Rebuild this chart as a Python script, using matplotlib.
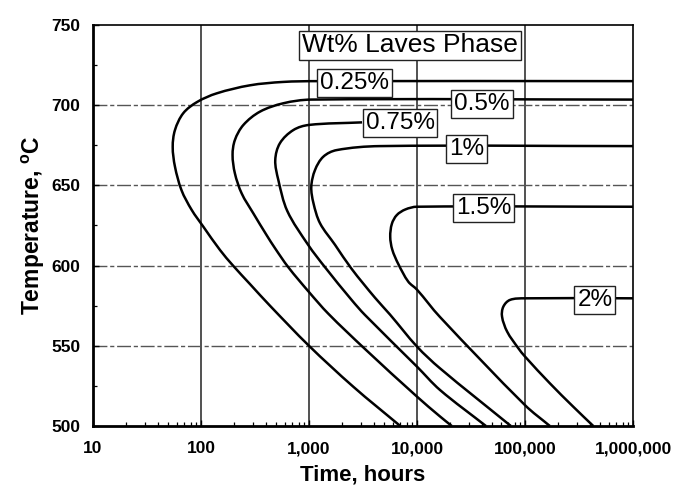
import numpy as np
import matplotlib
matplotlib.use("Agg")
import matplotlib.pyplot as plt
from matplotlib.path import Path
from matplotlib.patches import PathPatch
from matplotlib.ticker import FixedLocator, FixedFormatter, LogLocator, NullFormatter

plt.rcParams["font.family"] = ["Liberation Sans", "DejaVu Sans"]
plt.rcParams["mathtext.fontset"] = "custom"
plt.rcParams["mathtext.rm"] = "Liberation Sans"
plt.rcParams["mathtext.bf"] = "Liberation Sans:bold"

# Time (hours) / temperature (C) traces of each Laves-phase iso-fraction curve,
# listed from the low-temperature end, round the nose, out along the plateau.
t_025 = [7000, 2570, 1000, 435, 284, 198, 150, 105, 82, 66, 57.4, 54.7, 57.4, 68.5, 92, 140, 284, 574, 1200, 1e6]
T_025 = [500, 524.5, 550, 575, 588.5, 600, 609.7, 624.3, 634.7, 647, 661.7, 674, 684.5, 695, 702, 707.4, 712.4, 714.5, 715, 715]

t_050 = [21000, 16300, 10000, 3300, 1510, 1000, 643, 485, 405, 305, 238, 206, 196, 206, 247, 352, 578, 1045, 1e6]
T_050 = [500, 506, 518.3, 548, 570, 583.5, 599, 610.8, 619, 632.6, 645, 657.5, 669, 678.3, 687.7, 696, 701.2, 703.5, 703.5]

t_075 = [43500, 16300, 10000, 3300, 2480, 1406, 983, 630, 520, 487, 538, 716, 1000, 3100]
T_075 = [500, 522.5, 537, 569.2, 578.6, 599, 612.9, 634, 653.4, 665.8, 676.3, 684.5, 687.7, 689.3]

t_100 = [74000, 16300, 10000, 5620, 4080, 2480, 1740, 1265, 1100, 1050, 1137, 1357, 1800, 4540, 1e6]
T_100 = [500, 536, 549.5, 569.5, 580, 598, 613, 626.4, 638.9, 649.2, 659.6, 667.9, 672, 674.5, 674.5]

t_150 = [170000, 100000, 16300, 10000, 8300, 6710, 5900, 5650, 5850, 6500, 7800, 10000, 1e6]
T_150 = [500, 513, 568, 585, 590, 601, 610, 618, 626, 631.5, 635, 636.7, 636.7]

t_200 = [429000, 280000, 170000, 100000, 86700, 68400, 61300, 63000, 72600, 100000, 1e6]
T_200 = [500, 512, 526.6, 543.3, 548.5, 558.8, 568.2, 574.4, 578.6, 579.6, 579.6]

curve_labels = ["0.25%", "0.5%", "0.75%", "1%", "1.5%", "2%"]
curve_times = [t_025, t_050, t_075, t_100, t_150, t_200]
curve_temps = [T_025, T_050, T_075, T_100, T_150, T_200]

x_ticks = [10, 100, 1000, 10000, 100000, 1000000]
x_ticklabels = ["10", "100", "1,000", "10,000", "100,000", "1,000,000"]
y_ticks = [500, 550, 600, 650, 700, 750]
y_ticklabels = ["500", "550", "600", "650", "700", "750"]


def smooth_path(t, T, xscale=108.0, yscale=1.604):
    """Cubic Bezier path through the given points (tangents from neighbours,
    handle length from each segment), built in log-time space so the log axis
    maps it back onto the traced points."""
    u = np.log10(np.asarray(t, float)) * xscale
    v = np.asarray(T, float) * yscale
    p = np.column_stack([u, v])
    n = len(p)
    tang = np.zeros_like(p)
    for i in range(n):
        a = p[max(i - 1, 0)]
        b = p[min(i + 1, n - 1)]
        d = b - a
        tang[i] = d / (np.hypot(*d) or 1.0)
    verts = [p[0]]
    codes = [Path.MOVETO]
    for i in range(n - 1):
        seg = np.hypot(*(p[i + 1] - p[i])) / 3.0
        verts += [p[i] + tang[i] * seg, p[i + 1] - tang[i + 1] * seg, p[i + 1]]
        codes += [Path.CURVE4] * 3
    verts = np.array(verts)
    verts[:, 0] = 10 ** (verts[:, 0] / xscale)
    verts[:, 1] = verts[:, 1] / yscale
    return Path(verts, codes)


fig = plt.figure(figsize=(6.86, 4.97), dpi=100)
ax = fig.add_axes([93 / 686, 1 - 426 / 497, 540 / 686, 401 / 497])
ax.set_xscale("log")
ax.set_xlim(10, 1e6)
ax.set_ylim(500, 750)

# grid: solid verticals at each decade, dash-dot horizontals
for xv in x_ticks[1:-1]:
    ax.axvline(xv, color="#222222", lw=1.1, zorder=1)
for yv in y_ticks[1:-1]:
    ax.axhline(yv, color="#555555", lw=1.0, ls=(0, (10, 2, 3, 2)), zorder=1)

for t, T in zip(curve_times, curve_temps):
    ax.add_patch(PathPatch(smooth_path(t, T), fill=False, ec="black", lw=1.8,
                           capstyle="butt", joinstyle="round", zorder=3))

# boxed labels on each curve
label_pos = {"0.25%": (2640, 713.8), "0.5%": (40000, 700.5), "0.75%": (6970, 689),
             "1%": (28700, 672.5), "1.5%": (41300, 636), "2%": (444000, 578.5)}
box = dict(boxstyle="square,pad=0.12", fc="white", ec="#222222", lw=1.0)
for lab in curve_labels:
    x, y = label_pos[lab]
    ax.text(x, y, lab, fontsize=17.5, ha="center", va="center", bbox=box, zorder=5)

ax.text(0.587, 0.949, "Wt% Laves Phase", transform=ax.transAxes, fontsize=19,
        ha="center", va="center", bbox=dict(boxstyle="square,pad=0.1", fc="white", ec="#222222", lw=1.0), zorder=5)

ax.xaxis.set_major_locator(FixedLocator(x_ticks))
ax.xaxis.set_major_formatter(FixedFormatter(x_ticklabels))
ax.xaxis.set_minor_locator(LogLocator(base=10, subs=np.arange(2, 10)))
ax.xaxis.set_minor_formatter(NullFormatter())
ax.yaxis.set_major_locator(FixedLocator(y_ticks))
ax.yaxis.set_major_formatter(FixedFormatter(y_ticklabels))
ax.yaxis.set_minor_locator(FixedLocator([525, 575, 625, 675, 725]))

ax.tick_params(axis="both", which="major", direction="in", length=4, width=1.0, labelsize=12.5)
ax.tick_params(axis="x", which="major", pad=11)
ax.tick_params(axis="y", which="major", pad=9)
ax.tick_params(axis="both", which="minor", direction="in", length=3, width=0.9)
for lbl in ax.get_xticklabels() + ax.get_yticklabels():
    lbl.set_fontweight("bold")

for side in ["left", "bottom"]:
    ax.spines[side].set_linewidth(2.0)
for side in ["top", "right"]:
    ax.spines[side].set_linewidth(1.2)

ax.set_xlabel("Time, hours", fontsize=16, fontweight="bold", labelpad=6)
ax.set_ylabel("Temperature, $^{\\mathbf{o}}$C", fontsize=16.5, fontweight="bold", labelpad=3)

fig.savefig("out.png", dpi=100)
